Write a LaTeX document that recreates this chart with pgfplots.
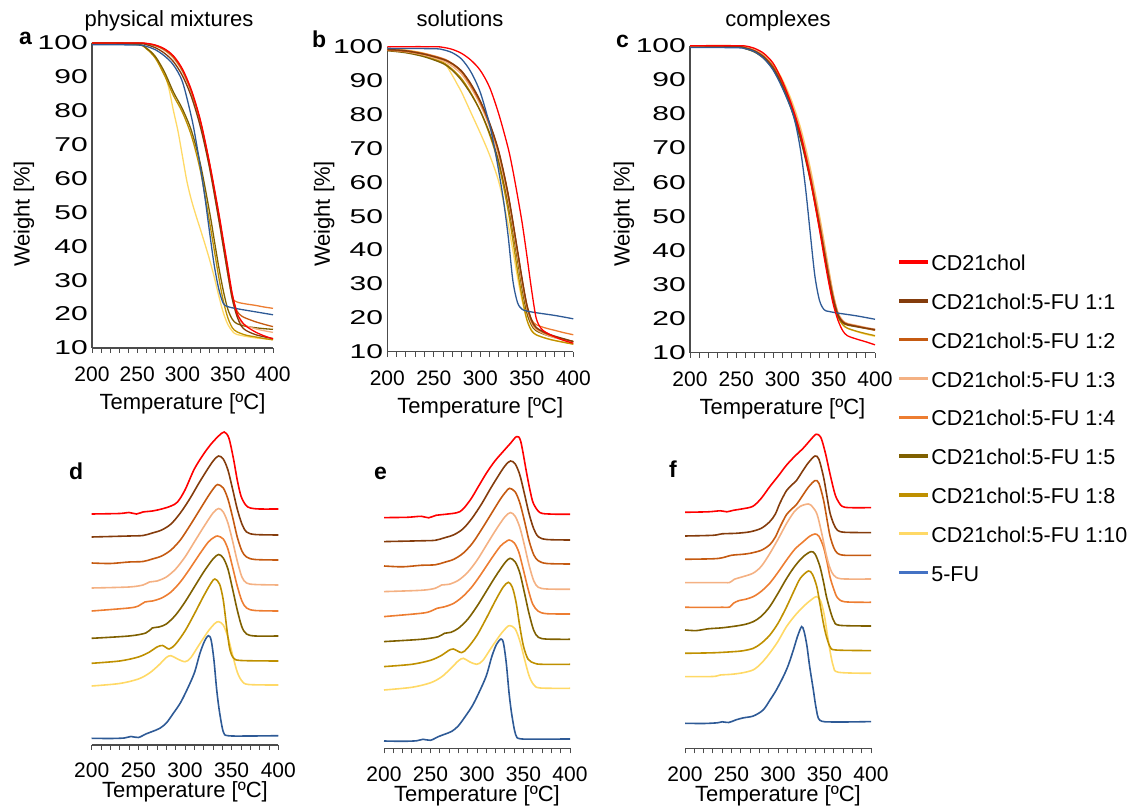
\documentclass[border=0pt]{standalone}
\usepackage{fontspec}
\setmainfont{Liberation Sans}
\usepackage{graphicx}
\usepackage{pgfplots}
\pgfplotsset{compat=1.18}
\definecolor{cRed}{HTML}{FF0000}
\definecolor{cOne}{HTML}{843C0C}
\definecolor{cTwo}{HTML}{C55A11}
\definecolor{cThree}{HTML}{F4B183}
\definecolor{cFour}{HTML}{ED7D31}
\definecolor{cFive}{HTML}{7F6000}
\definecolor{cEight}{HTML}{BF9000}
\definecolor{cTen}{HTML}{FFD966}
\definecolor{cFU}{HTML}{2E5A96}
\definecolor{cFUleg}{HTML}{4472C4}
\newcommand{\tickfont}{\fontsize{21bp}{21bp}\selectfont}
\newcommand{\labfont}{\fontsize{22bp}{22bp}\selectfont}
\newcommand{\letfont}{\fontsize{23bp}{23bp}\selectfont\bfseries}
\pgfplotsset{
  base/.style={scale only axis, anchor=south west, xmin=200, xmax=400, xtick={200,250,...,400}, minor x tick num=4,
    tick align=outside, major tick length=5bp, minor tick length=5bp,
    /pgf/number format/assume math mode=true, /pgf/number format/1000 sep={},
    axis line style={black!70, line width=1.1bp},
    xtick style={black!70, line width=0.9bp},
    xticklabel style={font=\tickfont, anchor=base, inner sep=0pt},
    xlabel={Temperature [ºC]},
    xlabel style={font=\labfont, at={(axis description cs:0.5,0)}, anchor=base},
    clip=false,
    every axis plot/.append style={smooth, line width=1.3bp}},
  tga/.style={base, axis lines*=left, ymin=10, ymax=100, ytick={10,20,...,100},
    ytick style={draw=none},
    yticklabel={\scalebox{1.5}[1]{\pgfmathprintnumber{\tick}}},
    yticklabel style={font=\fontsize{20bp}{20bp}\selectfont, anchor=east, inner sep=0pt, xshift=1bp},
    xticklabel style={yshift=-29bp}, xlabel style={yshift=-62bp},
    ylabel={Weight [\%]}, ylabel style={font=\labfont, anchor=center}},
  dtg/.style={base, axis x line*=bottom, axis y line=none, ymin=0, ymax=320, height=320bp,
    xticklabel style={yshift=-28bp}, xlabel style={yshift=-53bp},
    every axis plot/.append style={line width=1.6bp}},
}
\begin{document}
\begin{tikzpicture}[x=1bp,y=1bp]
% ---------------- a: physical mixtures (TGA)
\begin{axis}[tga, at={(92bp,460bp)}, width=181bp, height=305bp,
  ylabel style={at={(axis description cs:-0.3757,0.4393)}}]
\addplot[cTen] coordinates {(200,100)(250,99.6)(260,98.5)(270,96)(280,91)(285,86.5)(290,80)(295,74)(300,66.5)(305,59)(310,53.5)(315,49)(320,44.8)(325,40.5)(330,36)(335,31)(340,25.5)(345,20.5)(350,17)(355,15)(360,14)(380,13)(400,12.5)};
\addplot[cEight] coordinates {(200,100)(250,99.5)(260,98.3)(270,95.5)(280,90.5)(290,84.5)(300,79.5)(310,72.5)(320,62)(330,47)(335,39)(340,31)(345,24)(350,19)(355,16)(360,14.8)(370,13.8)(380,13.3)(390,12.8)(400,12.4)};
\addplot[cFive] coordinates {(200,100)(250,99.6)(260,98.5)(270,96)(280,91.5)(290,85.5)(300,80.5)(310,74)(320,64)(330,50)(335,42)(340,34)(345,27)(350,21.5)(355,18.5)(360,17.2)(370,16.4)(380,16)(390,15.7)(400,15.5)};
\addplot[cFour] coordinates {(200,100)(250,100)(260,99.8)(270,99.3)(280,98)(290,95.8)(300,91.8)(310,85.5)(320,76.5)(330,64)(340,49.5)(345,41)(350,32)(355,25)(360,23.6)(370,23)(380,22.6)(390,22.1)(400,21.7)};
\addplot[cThree] coordinates {(200,100)(250,100)(260,99.8)(270,99.2)(280,97.8)(290,95.5)(300,91.5)(310,85)(320,76)(330,63)(340,48)(345,40)(350,32)(355,24.5)(360,19.8)(365,17.5)(370,16.6)(380,15.7)(390,15.1)(400,14.6)};
\addplot[cTwo] coordinates {(200,100)(250,100)(260,99.8)(270,99.2)(280,98)(290,95.8)(300,91.8)(310,85.5)(320,76.5)(330,64)(340,49)(345,41)(350,33)(355,25.5)(360,21)(365,19.5)(370,18.8)(380,17.8)(390,17)(400,16.3)};
\addplot[cOne] coordinates {(200,100)(250,99.9)(260,99.5)(270,98.6)(280,97)(290,94.5)(300,90.3)(310,84)(320,75)(330,63)(340,48)(345,40)(350,32)(355,24.5)(360,19.5)(365,16.5)(370,15.2)(380,14)(390,13.3)(400,12.8)};
\addplot[cFU] coordinates {(200,99.5)(250,99.4)(260,99)(270,98)(280,96.2)(290,93.5)(300,88.5)(310,78)(315,71)(320,63)(325,54)(330,44)(335,34.5)(340,27.5)(345,23.2)(350,22.2)(360,21.6)(380,20.7)(400,19.8)};
\addplot[cRed] coordinates {(200,100)(250,100)(260,99.9)(270,99.4)(280,98.3)(290,96.2)(300,92.3)(310,86)(320,77)(330,64.5)(340,50)(345,42)(350,34)(355,26)(360,20.5)(365,18)(370,16.5)(380,14.8)(390,13.6)(400,12.7)};
\end{axis}
% ---------------- b: solutions (TGA)
\begin{axis}[tga, at={(387.3bp,456.3bp)}, width=186bp, height=305bp,
  ylabel style={at={(axis description cs:-0.340,0.4515)}}]
\addplot[cTen] coordinates {(200,99.5)(220,99)(240,98)(260,95.5)(270,91.5)(275,89)(280,86.5)(290,80.5)(300,74.5)(310,68)(320,60)(330,47.5)(340,32)(345,25)(350,19.5)(355,16.5)(360,15)(370,14)(380,13.3)(400,12.3)};
\addplot[cEight] coordinates {(200,99)(220,98.5)(240,97.3)(260,95.3)(270,93.3)(280,90.5)(290,86.3)(300,81)(310,74)(320,65)(330,51.5)(340,34)(345,26)(350,19.5)(355,16.2)(360,15)(370,14)(380,13.3)(400,12.2)};
\addplot[cFive] coordinates {(200,98.8)(220,98.2)(240,97)(260,95)(270,93)(280,90)(290,86)(300,81)(310,74.5)(320,66)(330,53.5)(340,37)(345,28.5)(350,21.5)(355,17.8)(360,16.2)(370,15)(380,14.2)(400,13)};
\addplot[cFour] coordinates {(200,99.3)(220,98.9)(240,98)(260,96.5)(270,95)(280,92.7)(290,88.7)(300,83.7)(310,77.2)(320,68.7)(330,56.2)(340,39.5)(345,31)(350,23.8)(355,19.5)(360,18)(370,17)(380,16.3)(390,15.6)(400,15)};
\addplot[cThree] coordinates {(200,99)(220,98.5)(240,97.5)(260,95.8)(270,94.2)(280,91.8)(290,87.8)(300,82.8)(310,76.2)(320,67.5)(330,55)(340,38.5)(345,30)(350,23)(355,18.5)(360,16.6)(370,15.1)(380,14.1)(400,12.8)};
\addplot[cTwo] coordinates {(200,99)(220,98.6)(240,97.7)(260,96.2)(270,94.8)(280,92.5)(290,88.5)(300,83.5)(310,77)(320,68.5)(330,56)(340,39.5)(345,31)(350,23.5)(355,19)(360,17)(370,15.4)(380,14.4)(400,13)};
\addplot[cOne] coordinates {(200,99.2)(220,98.8)(240,97.8)(260,96.3)(270,95)(280,92.8)(290,89)(300,84)(310,77.5)(320,69)(330,56.5)(340,40)(345,31.5)(350,24)(355,19.5)(360,17.2)(370,15.6)(380,14.6)(400,13)};
\addplot[cFU] coordinates {(200,99.5)(250,99.4)(260,99.1)(270,98.2)(280,96.3)(290,92.5)(300,86.5)(310,77)(315,70.5)(320,63)(325,54.5)(330,44)(335,31)(340,24.5)(345,22.5)(350,22)(360,21.5)(380,20.7)(400,19.7)};
\addplot[cRed] coordinates {(200,100)(250,100)(260,99.8)(270,99.2)(280,98)(290,96)(300,93)(310,88)(320,80)(330,70)(335,63.5)(340,56)(345,48)(350,38.5)(355,28.5)(360,20)(365,17)(370,15.8)(380,14.4)(390,13.3)(400,12.5)};
\end{axis}
% ---------------- c: complexes (TGA) + legend
\begin{axis}[tga, at={(690bp,455.3bp)}, width=185bp, height=307bp,
  ylabel style={at={(axis description cs:-0.357,0.4518)}},
  legend style={at={(axis description cs:1.123,0.3166)}, anchor=north west, draw=none, fill=none,
    inner sep=0pt, outer sep=0pt, row sep=23.5bp, font=\fontsize{21.5bp}{21.5bp}\selectfont,
    nodes={inner sep=0pt, text height=15.3bp, text depth=0bp}},
  legend cell align=left,
  legend image code/.code={\draw[#1, line width=3.3bp] (0bp,1bp) -- (28.6bp,1bp); \path (31.3bp,0bp);}]
\addplot[cTen, forget plot] coordinates {(200,100)(250,100)(260,99.8)(270,99)(280,97.5)(290,94.7)(300,90)(310,83.8)(320,75.5)(330,64.2)(340,50.2)(345,42.5)(350,34.5)(355,27)(360,21.3)(365,18.5)(370,17.2)(380,16.2)(390,15.4)(400,14.8)};
\addplot[cEight, forget plot] coordinates {(200,100)(250,99.7)(260,99.2)(270,98.2)(280,96.4)(290,93.3)(300,88.2)(310,81.6)(320,72.8)(330,61.5)(340,47.5)(345,40)(350,32.2)(355,25.3)(360,20.5)(365,18.2)(370,17.2)(380,16.3)(390,15.6)(400,15)};
\addplot[cFive, forget plot] coordinates {(200,100)(250,99.7)(260,99.1)(270,98.1)(280,96.2)(290,93)(300,87.8)(310,81)(320,72)(330,60.5)(340,46.5)(345,39)(350,31.5)(355,25)(360,20.7)(365,18.8)(370,18.1)(380,17.6)(390,17.1)(400,16.6)};
\addplot[cFour, forget plot] coordinates {(200,100)(250,100)(260,99.7)(270,98.8)(280,97.1)(290,94.1)(300,89.2)(310,82.7)(320,74.2)(330,62.8)(340,48.8)(345,41.2)(350,33.5)(355,26.5)(360,21.5)(365,19.3)(370,18.5)(380,17.9)(390,17.3)(400,16.7)};
\addplot[cThree, forget plot] coordinates {(200,100)(250,100)(260,99.7)(270,98.9)(280,97.3)(290,94.4)(300,89.6)(310,83.2)(320,74.8)(330,63.5)(340,49.5)(345,42)(350,34.2)(355,27)(360,21.8)(365,19.5)(370,18.6)(380,18)(390,17.4)(400,16.9)};
\addplot[cTwo, forget plot] coordinates {(200,100)(250,99.8)(260,99.4)(270,98.5)(280,96.8)(290,93.8)(300,88.8)(310,82.2)(320,73.5)(330,62)(340,48)(345,40.5)(350,33)(355,26.2)(360,21.3)(365,19.2)(370,18.4)(380,17.8)(390,17.2)(400,16.6)};
\addplot[cOne, forget plot] coordinates {(200,100)(250,99.8)(260,99.3)(270,98.4)(280,96.6)(290,93.4)(300,88.2)(310,81.5)(320,72.5)(330,61)(340,47)(345,39.5)(350,32)(355,25.5)(360,21)(365,19)(370,18.3)(380,17.7)(390,17.2)(400,16.8)};
\addplot[cFU, forget plot] coordinates {(200,99.5)(250,99.4)(260,99.1)(270,98.2)(280,96.2)(290,92.8)(300,87.5)(310,81)(315,76)(320,68.5)(325,58)(330,45)(335,32.5)(340,25.3)(345,22.6)(350,22.1)(360,21.6)(380,20.8)(400,19.8)};
\addplot[cRed, forget plot] coordinates {(200,100)(250,100)(260,99.9)(270,99.2)(280,97.7)(290,94.8)(300,89.5)(310,82.5)(320,73.5)(330,61)(340,46)(345,38)(350,30.5)(355,24)(360,19.5)(365,16.5)(370,15)(380,14)(390,13.2)(400,12.3)};
\addlegendimage{cRed}\addlegendentry{CD21chol}
\addlegendimage{cOne}\addlegendentry{CD21chol:5-FU 1:1}
\addlegendimage{cTwo}\addlegendentry{CD21chol:5-FU 1:2}
\addlegendimage{cThree}\addlegendentry{CD21chol:5-FU 1:3}
\addlegendimage{cFour}\addlegendentry{CD21chol:5-FU 1:4}
\addlegendimage{cFive}\addlegendentry{CD21chol:5-FU 1:5}
\addlegendimage{cEight}\addlegendentry{CD21chol:5-FU 1:8}
\addlegendimage{cTen}\addlegendentry{CD21chol:5-FU 1:10}
\addlegendimage{cFUleg}\addlegendentry{5-FU}
\end{axis}
% ---------------- d: physical mixtures (DTG, stacked)
\begin{axis}[dtg, at={(91.7bp,63bp)}, width=186.6bp]
\addplot[cFU] coordinates {(200,6.7)(220,6.5)(235,7)(242,8.5)(250,7.5)(258,11)(265,13.5)(273,16.7)(280,22)(287.5,31.7)(295,42)(302,55)(310,72)(316,91.7)(321,104)(325,109.3)(328,105)(331,85)(334,55)(337,33)(341,13.3)(346,9.3)(370,9)(400,9.3)};
\addplot[cTen] coordinates {(200,59)(230,61.5)(250,66)(262,72)(272,80)(280,87.5)(285,89.3)(292,86)(300,83.3)(306,87)(315,100)(325,114)(332,121.5)(336,123.3)(341,120)(346,108)(351,90)(356,73)(361,64)(368,60.5)(400,60)};
\addplot[cEight] coordinates {(200,81.7)(230,84)(250,88)(262,93)(270,98)(276,99.5)(283,96)(290,101)(300,114)(310,131)(320,149)(328,162)(332,166)(337,161)(341,145)(345,115)(348,96)(352,87)(360,84.5)(400,84)};
\addplot[cFive] coordinates {(200,106.7)(240,109)(258,112)(265,117)(272,118)(280,121)(290,130)(300,143)(310,158)(320,173)(330,186)(336,190.5)(341,187)(346,176)(351,156)(356,135)(361,118)(366,111)(375,109)(400,109)};
\addplot[cFour] coordinates {(200,134)(240,137)(250,139)(257,143)(265,144)(275,147)(285,153)(295,163)(305,176)(315,190)(325,203)(331,207.5)(335,209)(341,206)(346,196)(351,178)(356,159)(361,144)(366,137)(375,134.5)(400,134)};
\addplot[cThree] coordinates {(200,157)(240,158)(255,160)(262,163)(270,164)(280,168)(290,176)(300,188)(310,203)(320,218)(330,232)(336,236.5)(341,233)(346,222)(351,204)(356,184)(361,168)(366,162)(375,160.5)(400,160)};
\addplot[cTwo] coordinates {(200,182)(220,181.5)(240,183)(255,183.5)(265,186)(275,189)(285,195)(295,205)(305,219)(315,234)(325,249)(331,257)(335,260.5)(341,257)(346,246)(351,228)(356,208)(361,194)(366,188)(375,185.5)(400,185)};
\addplot[cOne] coordinates {(200,208)(240,209)(255,209.5)(265,212)(275,215)(285,221)(295,232)(305,246)(315,262)(325,277)(331,285)(336,289)(341,286)(346,275)(351,256)(356,236)(361,221)(366,213)(375,210.5)(400,210)};
\addplot[cRed] coordinates {(200,231)(230,231.5)(240,232.5)(248,231)(255,233)(265,234)(275,236)(285,239)(292,243)(300,255)(310,276)(320,291)(328,301)(336,309)(342,313)(347,307)(352,286)(356,265)(360,249)(365,240)(370,237)(380,236)(400,236)};
\end{axis}
% ---------------- e: solutions (DTG, stacked)
\begin{axis}[dtg, at={(384bp,59.7bp)}, width=186bp]
\addplot[cFU] coordinates {(200,7.3)(220,7)(235,7.5)(242,9)(250,8)(258,11.5)(265,14)(273,17)(280,22.5)(287.5,32)(295,42.5)(302,55.5)(310,72.5)(316,92)(321,104)(325.8,109.3)(328.5,105)(331.5,85)(334.5,55)(337.5,33)(341.5,13.8)(346.5,9.5)(370,9.2)(400,9.3)};
\addplot[cTen] coordinates {(200,58.3)(230,61)(250,65.5)(262,71.5)(272,80)(280,87.5)(285.3,90)(292,86.5)(299.6,84)(306,87.5)(315,100)(325,113.5)(332,121)(335.5,122.7)(341,119.5)(346,107.5)(351,89.5)(356,72.5)(361,63.5)(368,60.3)(400,60)};
\addplot[cEight] coordinates {(200,81.7)(230,84)(250,88)(262,93)(269,97.5)(274.5,99.3)(283.5,95.7)(290,100.5)(300,113)(310,130)(320,148)(328,161)(333.7,166)(338,161)(342,146)(346,122)(350,102)(355,89)(362,85)(370,84)(400,84)};
\addplot[cFive] coordinates {(200,106.7)(240,109)(258,111.5)(265,115)(272,116)(280,120)(290,129)(300,142)(310,157)(320,172)(330,185.5)(335.5,190)(341,186.5)(346,175.5)(351,155.5)(356,134.5)(361,118)(366,111)(375,109.2)(400,109)};
\addplot[cFour] coordinates {(200,131.7)(240,135)(250,137)(257,140)(265,141.5)(275,145)(285,152)(295,162)(305,175)(315,189)(325,202)(331,206.5)(334.5,208.3)(340,205.5)(345,196)(350,178)(355,159)(360,144)(366,137)(375,134.6)(400,134.3)};
\addplot[cThree] coordinates {(200,156.7)(240,158)(255,160)(262,163.3)(270,164)(280,168)(290,176)(300,188)(310,203)(320,218)(330,231.5)(336,235.7)(341,232)(346,221)(351,203)(356,183)(361,167.5)(366,161)(375,159.3)(400,159)};
\addplot[cTwo] coordinates {(200,182.3)(220,181.5)(240,183)(255,183.5)(265,186)(275,189)(285,195)(295,205)(305,219)(315,234)(325,249)(331,256.5)(335,260)(341,256.5)(346,245.5)(351,227.5)(356,207.5)(361,193.5)(366,187.5)(375,184.8)(400,184.3)};
\addplot[cOne] coordinates {(200,206.7)(240,207.5)(255,208)(265,210.5)(275,213.5)(285,219.5)(295,230.5)(305,244.5)(315,260.5)(325,275.5)(331,283.5)(336,287.3)(341,284.5)(346,273.5)(351,254.5)(356,234.5)(361,219.5)(366,211.5)(375,208.8)(400,208.3)};
\addplot[cRed] coordinates {(200,230.7)(225,231)(240,232)(248,230.5)(256,233)(266,234)(281.7,236.7)(292.5,248)(301,261)(310,275)(319,287)(328,296.7)(336,305)(342.6,311.7)(347,307)(353.4,275)(357,258)(360.6,245)(367.7,235.7)(380,234.2)(400,234)};
\end{axis}
% ---------------- f: complexes (DTG, stacked)
\begin{axis}[dtg, at={(685bp,59.7bp)}, width=186bp]
\addplot[cFU] coordinates {(200,25)(220,24.8)(235,25.5)(240,26.5)(247,25.8)(255,28.5)(263,30.5)(273.5,32.3)(284,38.3)(291.4,48.3)(298,58)(305.7,71.7)(311,83)(316.5,98.3)(321,112)(325.4,121.7)(328,117)(331,103)(334,82)(338,58.3)(341,40)(345,28)(360,26.3)(400,26.7)};
\addplot[cTen] coordinates {(200,71.7)(230,71.8)(238,73.3)(250,74)(262,75.5)(273.5,78.5)(282,85)(291,95)(300,107)(309,121.5)(318,132.5)(327,141.5)(335,148)(341.6,151.7)(346,147)(350,132)(353,114)(356,97)(359.5,82)(365,76)(400,75)};
\addplot[cEight] coordinates {(200,95)(230,95.5)(250,96.5)(262,97.5)(273.5,100)(282,105)(291,113)(300,125)(309,141)(317,157)(324,170)(332.6,177.3)(337,174)(341.6,162)(345,145)(349,124)(352,112)(356,101.5)(362,98.3)(400,97.7)};
\addplot[cFive] coordinates {(200,118.3)(212,117.7)(225,119.5)(240,120.5)(255,122.3)(265,124)(273.5,126.7)(282,132)(291,141.5)(300,155)(309,169.5)(318,182)(327,191.5)(335.5,196.7)(340,194)(345,182)(349,166)(352,152)(356,138)(360,127.5)(366,123)(400,122.3)};
\addplot[cFour] coordinates {(200,141)(240,141)(248,141.3)(252,145)(258,147.7)(265,149)(273.5,151.7)(282,157)(291,165)(300,176)(309,188)(318,199)(327,206.5)(334,212)(339.8,214.3)(344,212)(349,201)(353,185)(356,171)(360,159)(364,150.5)(372,146.5)(400,146)};
\addplot[cThree] coordinates {(200,165.7)(240,165.7)(248,165.8)(253,169)(260,171)(273,175)(282,182)(291,194.5)(300,209)(309,224.5)(317,236)(324,242)(332.6,244.3)(337,241.5)(342,234)(347,215)(352,193)(356,180)(360,173)(368,169.5)(400,169.3)};
\addplot[cTwo] coordinates {(200,189)(230,189.5)(240,190.5)(250,193)(262,194)(270,195)(282,198)(291,203.5)(297,211)(302,221)(309,233.5)(315,239.5)(320,244)(327,253.5)(333,261.5)(339.8,267.7)(344,265)(349,248)(353,227)(356,212)(360,200.5)(364,195)(372,193)(400,193)};
\addplot[cOne] coordinates {(200,212.3)(230,213)(240,214.5)(255,215)(270,216.5)(282,220)(291,226.5)(297,234)(302,245)(309,257.5)(315,263.5)(320,268)(327,278)(333,286)(339.8,292.3)(344,289)(349,271)(353,250)(356,235)(360,224)(364,218)(372,216)(400,215.7)};
\addplot[cRed] coordinates {(200,236)(225,236.5)(238,237.5)(245,236.5)(252,238)(262,239.5)(273,242)(282,250)(291,261.5)(300,272)(309,283)(318,292)(327,300)(335,308.5)(341,314)(346,311)(351,295)(356,274)(361,255)(365,246.5)(372,241)(400,240.7)};
\end{axis}
% ---------------- titles and panel letters
\node[font=\labfont, anchor=base, inner sep=0pt] at (169,781) {physical mixtures};
\node[font=\labfont, anchor=base, inner sep=0pt] at (460,781.3) {solutions};
\node[font=\labfont, anchor=base, inner sep=0pt] at (778,781) {complexes};
\node[font=\letfont, anchor=base west, inner sep=0pt] at (19,763) {a};
\node[font=\letfont, anchor=base west, inner sep=0pt] at (312,760) {b};
\node[font=\letfont, anchor=base west, inner sep=0pt] at (616,760) {c};
\node[font=\letfont, anchor=base west, inner sep=0pt] at (69,328) {d};
\node[font=\letfont, anchor=base west, inner sep=0pt] at (374,328) {e};
\node[font=\letfont, anchor=base west, inner sep=0pt] at (669,330) {f};
\pgfresetboundingbox
\useasboundingbox (0,0) rectangle (1137,808);
\end{tikzpicture}
\end{document}
